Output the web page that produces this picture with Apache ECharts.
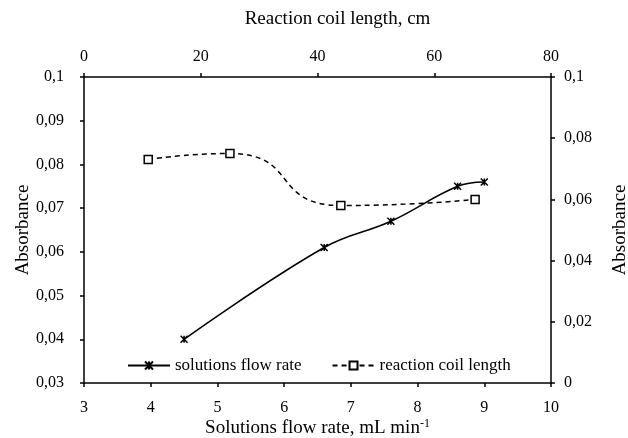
<!DOCTYPE html>
<html lang="en">
<head>
    <meta charset="UTF-8">
    <title>Absorbance vs flow rate / coil length</title>
    <script src="https://cdn.jsdelivr.net/npm/echarts@6/dist/echarts.min.js"></script>
    <style>
        *{ margin:0; padding:0; }
        body{ background:#fff; }
        #chart{ width:628px; height:438px; }
    </style>
</head>
<body>
<div id="chart"></div>
<script type="text/javascript">
    // solutions flow rate (bottom / left axes)
    var flowRate = [4.5, 6.6, 7.6, 8.6, 9.0];
    var flowAbs = [0.040, 0.061, 0.067, 0.075, 0.076];
    // reaction coil length (top / right axes)
    var coilLength = [11, 25, 44, 67];
    var coilAbs = [0.073, 0.075, 0.058, 0.060];

    var seriesNames = ['solutions flow rate', 'reaction coil length'];

    function pairs(xs, ys){
        var out = [];
        for(var i=0;i<xs.length;i++){ out.push([xs[i], ys[i]]); }
        return out;
    }
    function comma(v){
        return String(parseFloat(v.toFixed(4))).replace('.', ',');
    }

    var serif = 'Liberation Serif';
    var axisCommon = {
        nameMoveOverlap: false,
        axisLine: { show: true, onZero: false, lineStyle: { color: '#000', width: 1.5 } },
        axisTick: { show: true, inside: false, length: 4, lineStyle: { color: '#000', width: 1.5 } },
        splitLine: { show: false },
        nameTextStyle: { color: '#000', fontFamily: serif, fontSize: 19 }
    };
    function ax(extra){
        var o = JSON.parse(JSON.stringify(axisCommon));
        for(var k in extra){ o[k] = extra[k]; }
        return o;
    }
    var starPath = 'path://M0,0L10,10M10,0L0,10M5,0L5,10';

    var myChart = echarts.init(document.getElementById('chart'));
    var option = {
        animation: false,
        backgroundColor: '#fff',
        grid: { left: 84, right: 77, top: 77, bottom: 55, outerBoundsMode: 'none', containLabel: false },
        legend: {
            left: 122, top: 352,
            itemWidth: 42, itemHeight: 10, itemGap: 30,
            textStyle: { color: '#000', fontFamily: serif, fontSize: 17 },
            data: seriesNames
        },
        xAxis: [
            ax({
                type: 'value', position: 'bottom', min: 3, max: 10, interval: 1,
                name: 'Solutions flow rate, mL min{sup|-1}',
                nameLocation: 'middle', nameGap: 35,
                nameTextStyle: {
                    color: '#000', fontFamily: serif, fontSize: 19,
                    rich: { sup: { fontFamily: serif, fontSize: 12, verticalAlign: 'top', padding: [0,0,8,0], color: '#000' } }
                },
                axisLabel: { color: '#000', fontFamily: serif, fontSize: 16, margin: 17 }
            }),
            ax({
                type: 'value', position: 'top', min: 0, max: 80, interval: 20,
                name: 'Reaction coil length, cm',
                nameLocation: 'middle', nameGap: 48,
                nameTextStyle: { color: '#000', fontFamily: serif, fontSize: 19, padding: [0, 0, 0, 40] },
                axisLabel: { color: '#000', fontFamily: serif, fontSize: 16, margin: 12 }
            })
        ],
        yAxis: [
            ax({
                type: 'value', position: 'left', min: 0.03, max: 0.1, interval: 0.01,
                name: 'Absorbance', nameLocation: 'middle', nameGap: 51, nameRotate: 90,
                axisLabel: { color: '#000', fontFamily: serif, fontSize: 16, margin: 20, formatter: comma }
            }),
            ax({
                type: 'value', position: 'right', min: 0, max: 0.1, interval: 0.02,
                name: 'Absorbance', nameLocation: 'middle', nameGap: 60, nameRotate: 90,
                axisLabel: { color: '#000', fontFamily: serif, fontSize: 16, margin: 13, formatter: comma }
            })
        ],
        series: [
            {
                name: seriesNames[0], type: 'line', xAxisIndex: 0, yAxisIndex: 0,
                smooth: 0.4,
                data: pairs(flowRate, flowAbs),
                symbol: starPath, symbolSize: 7,
                lineStyle: { color: '#000', width: 1.5 },
                itemStyle: { color: '#000', borderColor: '#000', borderWidth: 1.5 }
            },
            {
                name: seriesNames[1], type: 'line', xAxisIndex: 1, yAxisIndex: 1,
                smooth: 0.6,
                data: pairs(coilLength, coilAbs),
                symbol: 'rect', symbolSize: 8,
                lineStyle: { color: '#000', width: 1.5, type: [5, 4] },
                itemStyle: { color: '#fff', borderColor: '#000', borderWidth: 1.5 }
            }
        ]
    };
    myChart.setOption(option);
</script>
</body>
</html>
